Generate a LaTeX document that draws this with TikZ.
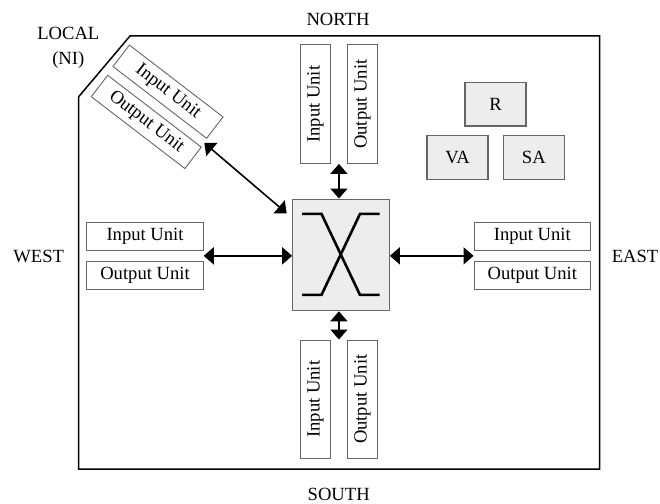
\documentclass[tikz,border=0pt]{standalone}
\usepackage{fontspec}
\setmainfont{Liberation Serif}
\usetikzlibrary{arrows.meta,calc}
\begin{document}
\begin{tikzpicture}[x=1pt,y=1pt,
  unit/.style={draw=black!60, line width=0.9pt, fill=white, inner sep=0pt,
    minimum width=116.6pt, minimum height=28.4pt, font=\fontsize{18.6}{22}\selectfont},
  vunit/.style={unit, minimum width=29.4pt, minimum height=118.5pt},
  gbox/.style={draw=black!60, line width=1.1pt, fill=black!7, inner sep=0pt,
    minimum width=61pt, minimum height=43.5pt, font=\fontsize{18.6}{22}\selectfont},
  dir/.style={font=\fontsize{18.6}{25.7}\selectfont, inner sep=0pt, anchor=base},
  link/.style={line width=1.6pt, {Triangle[length=10pt,width=17pt]}-{Triangle[length=10pt,width=17pt]}},
  xline/.style={line width=2.6pt}
]
\useasboundingbox (0,0) rectangle (660,-503);
% outer frame
\draw[line width=1.5pt] (78.7,-469) -- (78.7,-96.7) -- (130,-36) -- (599.5,-36) -- (599.5,-469) -- cycle;
% direction labels
\node[dir] (north) at (338,-26) {NORTH};
\node[dir] (south) at (338.7,-500.5) {SOUTH};
\node[dir] (west) at (38.7,-262.3) {WEST};
\node[dir] (east) at (635,-262.3) {EAST};
\node[font=\fontsize{18.6}{25.7}\selectfont, inner sep=0pt, align=center, anchor=north] (local) at (68.3,-26.7) {LOCAL\\(NI)};
% switch
\node[gbox, minimum width=96.6pt, minimum height=111.7pt] (sw) at (341,-254.9) {};
\draw[xline] ([shift={(-39,41)}]sw.center) -- ([shift={(-19.5,41)}]sw.center) -- ([shift={(19,-40)}]sw.center) -- ([shift={(38.5,-40)}]sw.center);
\draw[xline] ([shift={(38.5,41)}]sw.center) -- ([shift={(19,41)}]sw.center) -- ([shift={(-19.5,-40)}]sw.center) -- ([shift={(-39,-40)}]sw.center);
% R, VA, SA
\node[gbox] (r) at (495.5,-104.2) {R};
\node[gbox] (va) at (457.5,-157.4) {VA};
\node[gbox] (sa) at (533.8,-157.4) {SA};
% north units
\node[vunit] (nIn) at (315.35,-104.2) {\rotatebox{90}{Input Unit}};
\node[vunit] (nOut) at (362.5,-104.2) {\rotatebox{90}{Output Unit}};
% south units
\node[vunit] (sIn) at (315.35,-399.2) {\rotatebox{90}{Input Unit}};
\node[vunit] (sOut) at (362.5,-399.2) {\rotatebox{90}{Output Unit}};
% west units
\node[unit] (wIn) at (145,-236.5) {Input Unit};
\node[unit] (wOut) at (145,-275.2) {Output Unit};
% east units
\node[unit] (eIn) at (532.3,-236.5) {Input Unit};
\node[unit] (eOut) at (532.3,-275.2) {Output Unit};
% local units
\node[unit, rotate=-37.5, minimum width=118pt, minimum height=27pt] (lIn) at (168,-91.7) {Input Unit};
\node[unit, rotate=-37.5, minimum width=118pt, minimum height=27pt] (lOut) at (146.3,-121.9) {Output Unit};
% links
\coordinate (ng) at ($(nIn.center)!0.5!(nOut.center)$);
\coordinate (sg) at ($(sIn.center)!0.5!(sOut.center)$);
\coordinate (wg) at ($(wIn.center)!0.5!(wOut.center)$);
\coordinate (eg) at ($(eIn.center)!0.5!(eOut.center)$);
\coordinate (lg) at ($(lIn.east)!0.5!(lOut.east)$);
\coordinate (lsw) at (286.7,-213.3);
\draw[link] (nIn.south -| ng) -- (sw.north -| ng);
\draw[link] (sw.south -| sg) -- (sIn.north -| sg);
\draw[link] (wg -| wIn.east) -- (wg -| sw.west);
\draw[link] (eg -| sw.east) -- (eg -| eIn.west);
\draw[link] (lg) -- (lsw);
\end{tikzpicture}
\end{document}
